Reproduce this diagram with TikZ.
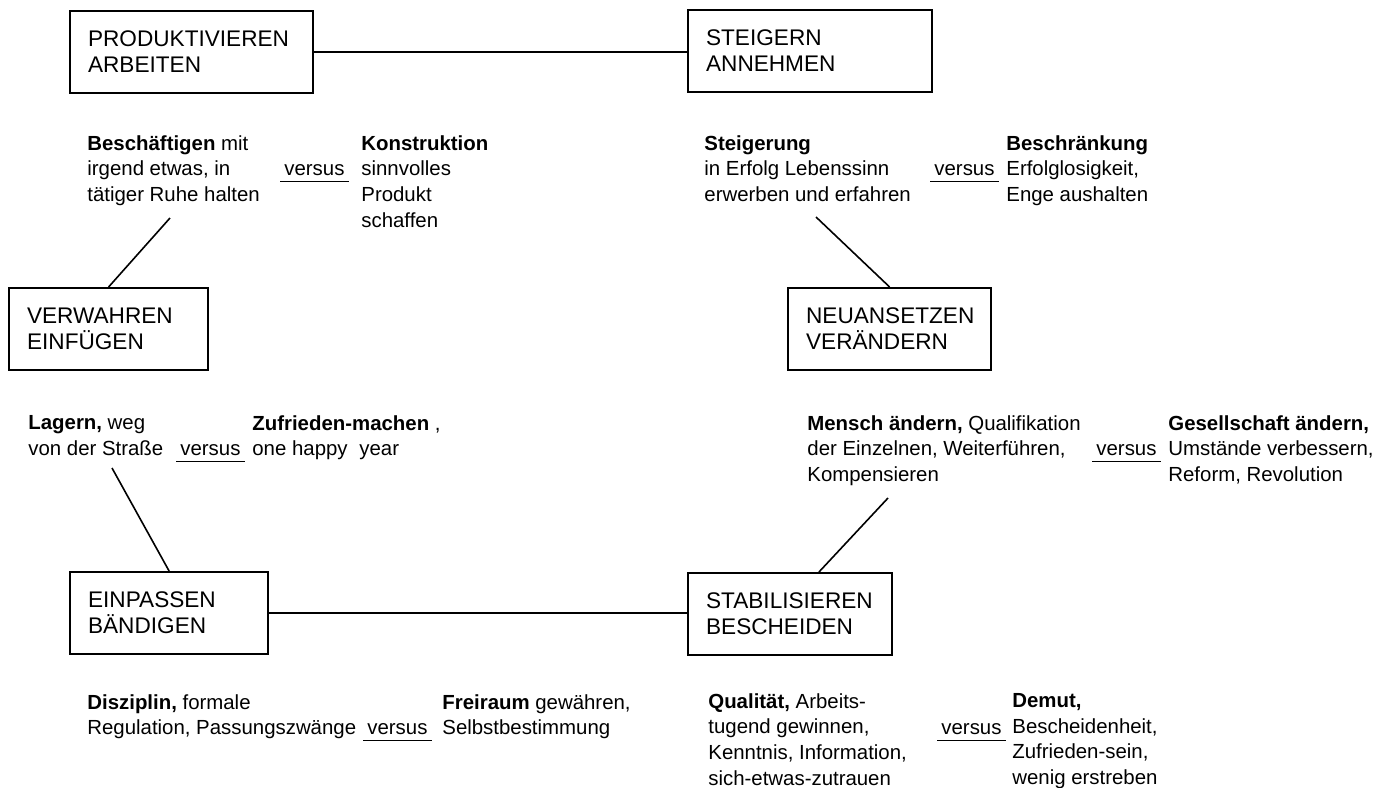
\documentclass[tikz,border=0pt]{standalone}
\usepackage{fontspec}
\setmainfont{Liberation Sans}
\usetikzlibrary{calc}

\begin{document}
\begin{tikzpicture}[x=0.5pt, y=-0.5pt,
    box/.style={draw, line width=1.1pt, anchor=north west, minimum height=41pt,
        inner xsep=9pt, text width=#1, align=left, font=\fontsize{11.3}{13}\selectfont},
    txt/.style={anchor=north west, inner sep=0pt, align=left,
        font=\fontsize{10.2}{12.85}\selectfont},
    vs/.style={anchor=base west, inner xsep=2pt, inner ysep=3pt,
        font=\fontsize{10.2}{12.85}\selectfont},
    conn/.style={line width=0.8pt}]
    \useasboundingbox (0,0) rectangle (1396,787);

    % The six boxes
    \node[box=103.5pt] (pa) at (69,10) {PRODUKTIVIEREN\\ARBEITEN};
    \node[box=104pt] (sa) at (687,9) {STEIGERN\\ANNEHMEN};
    \node[box=81.5pt] (ve) at (8,287) {VERWAHREN\\EINFÜGEN};
    \node[box=83.5pt] (nv) at (787,287) {NEUANSETZEN\\VERÄNDERN};
    \node[box=81pt] (eb) at (69,571) {EINPASSEN\\BÄNDIGEN};
    \node[box=84pt] (sb) at (687,572) {STABILISIEREN\\BESCHEIDEN};

    % Text pairs under the boxes
    \node[txt] (t1l) at (87,135) {\textbf{Beschäftigen} mit\\irgend etwas, in\\tätiger Ruhe halten};
    \node[vs] (v1) at (280,175) {versus};
    \node[txt] (t1r) at (361,135) {\textbf{Konstruktion}\\sinnvolles\\Produkt\\schaffen};

    \node[txt] (t2l) at (704,135) {\textbf{Steigerung}\\in Erfolg Lebenssinn\\erwerben und erfahren};
    \node[vs] (v2) at (930,175) {versus};
    \node[txt] (t2r) at (1006,135) {\textbf{Beschränkung}\\Erfolglosigkeit,\\Enge aushalten};

    \node[txt] (t3l) at (28,415) {\textbf{Lagern,} weg\\von der Straße};
    \node[vs] (v3) at (176,455) {versus};
    \node[txt] (t3r) at (252,415) {\textbf{Zufrieden-machen} ,\\one happy\hspace{0.3em} year};

    \node[txt] (t4l) at (807,415) {\textbf{Mensch ändern,} Qualifikation\\der Einzelnen, Weiterführen,\\Kompensieren};
    \node[vs] (v4) at (1092,455) {versus};
    \node[txt] (t4r) at (1168,415) {\textbf{Gesellschaft ändern,}\\Umstände verbessern,\\Reform, Revolution};

    \node[txt] (t5l) at (87,694) {\textbf{Disziplin,} formale\\Regulation, Passungszwänge};
    \node[vs] (v5) at (363,734) {versus};
    \node[txt] (t5r) at (442,694) {\textbf{Freiraum} gewähren,\\Selbstbestimmung};

    \node[txt] (t6l) at (708,693) {\textbf{Qualität,} Arbeits-\\tugend gewinnen,\\Kenntnis, Information,\\sich-etwas-zutrauen};
    \node[vs] (v6) at (937,734) {versus};
    \node[txt] (t6r) at (1012,693) {\textbf{Demut,}\\Bescheidenheit,\\Zufrieden-sein,\\wenig erstreben};

    % Underline each versus
    \foreach \v in {v1,v2,v3,v4,v5,v6}
        \draw[conn] (\v.south west) -- (\v.south east);

    % Free ends of the slanted lines
    \coordinate (e1) at (170,218);
    \coordinate (e2) at (816,217);
    \coordinate (e3) at (112,468);
    \coordinate (e4) at (888,498);

    % Connectors
    \draw[conn] (pa.east) -- (pa.east -| sa.west);
    \draw[conn] (eb.east) -- (eb.east -| sb.west);
    \draw[conn] (e1) -- (ve.north);
    \draw[conn] (e2) -- (nv.north);
    \draw[conn] (e3) -- (eb.north);
    \draw[conn] ($(sb.north west)!0.64!(sb.north east)$) -- (e4);
\end{tikzpicture}
\end{document}
